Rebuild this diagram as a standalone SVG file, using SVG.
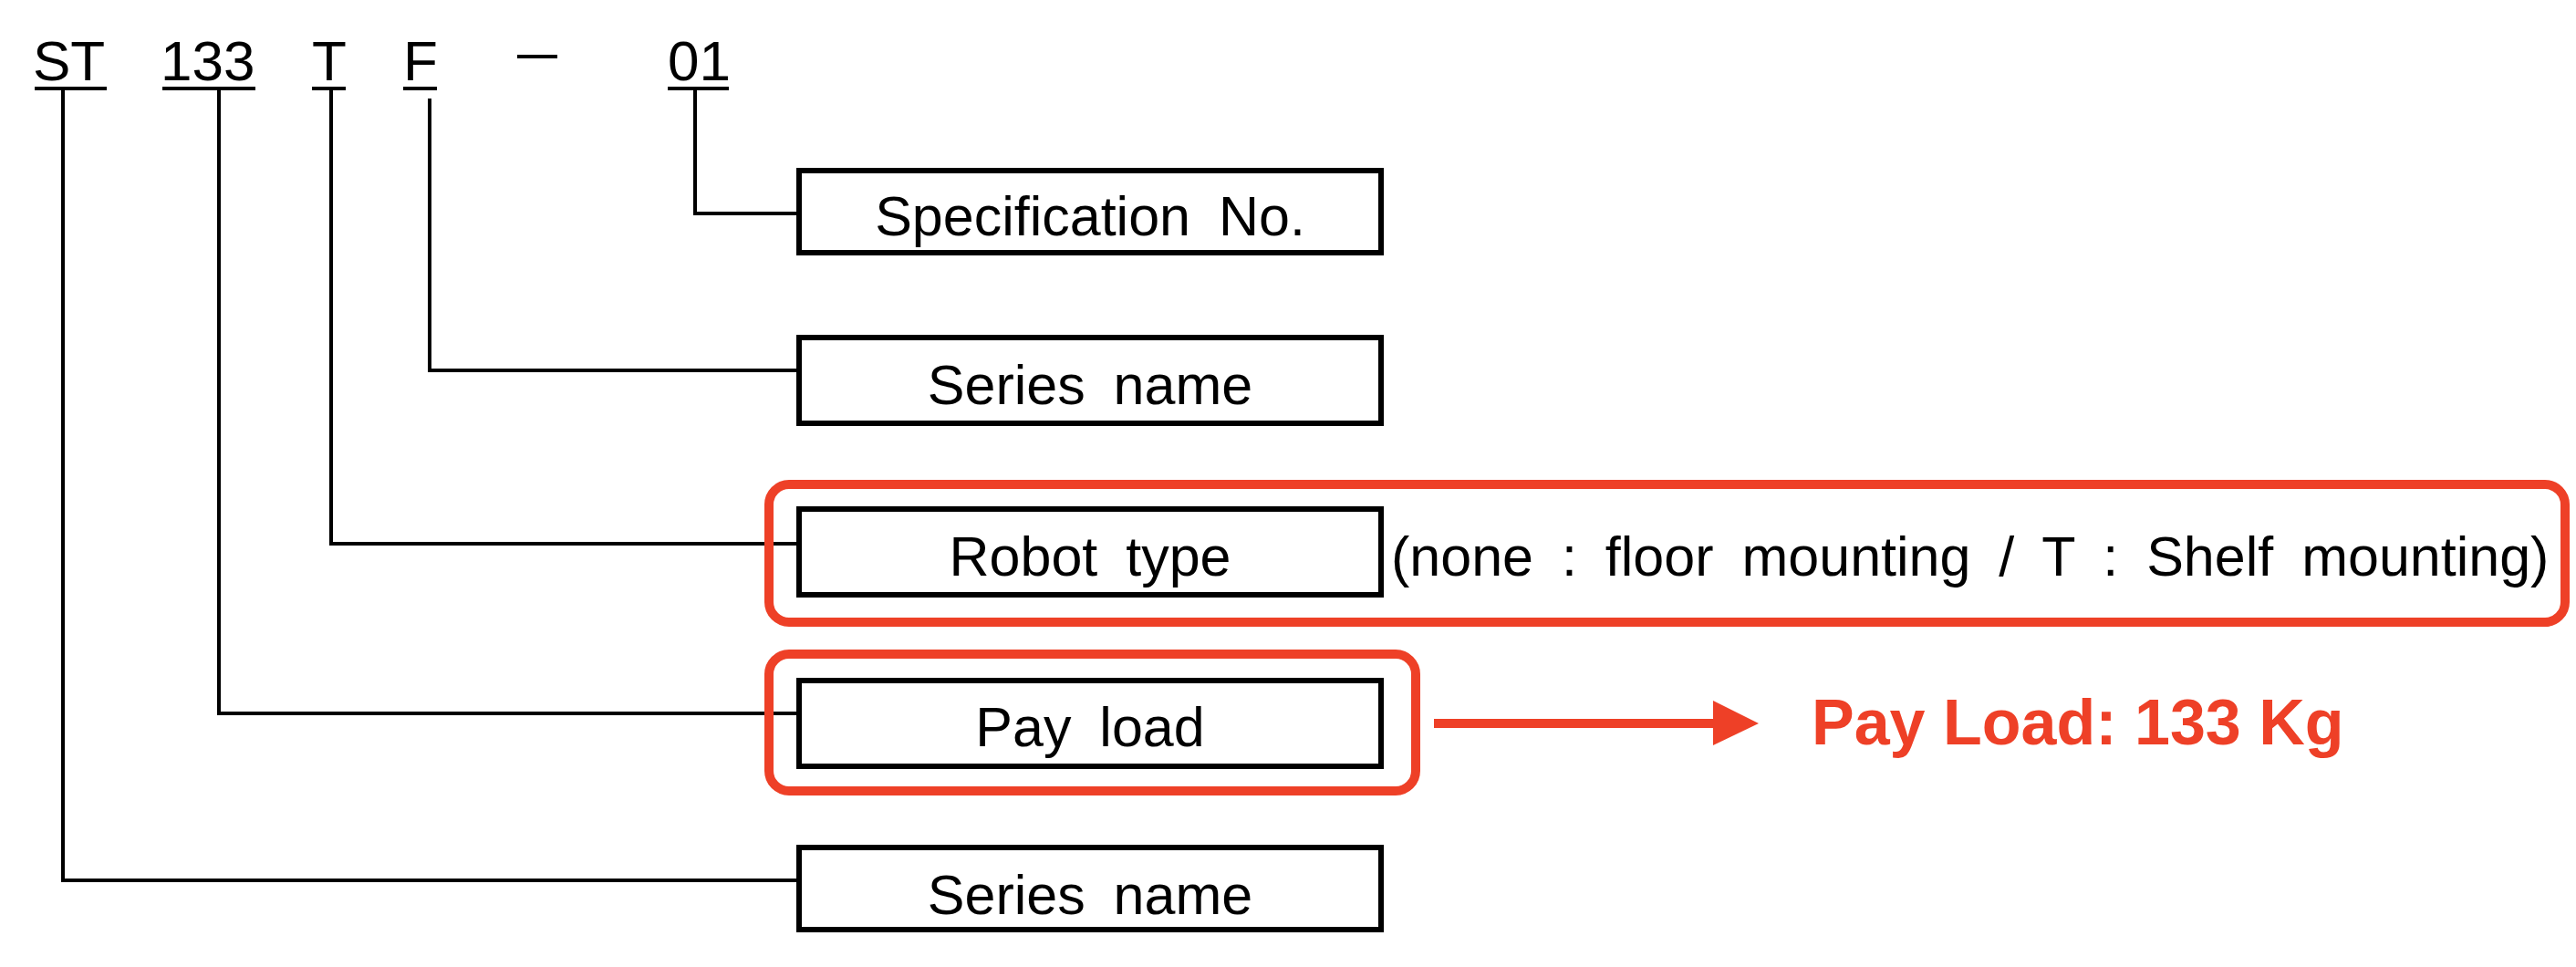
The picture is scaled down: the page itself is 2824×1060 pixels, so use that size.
<svg xmlns="http://www.w3.org/2000/svg" width="2824" height="1060" viewBox="0 0 2824 1060">
<style>
.code{font-family:"Liberation Sans",Arial,sans-serif;font-size:62px;fill:#000}
.lbl{font-family:"Liberation Sans",Arial,sans-serif;font-size:61px;fill:#000;word-spacing:14px}
.box{fill:#fff;stroke:#000;stroke-width:6}
.ul{stroke:#000;stroke-width:4;fill:none}
.con{stroke:#000;stroke-width:4;fill:none}
.hl{fill:none;stroke:#EE4027;stroke-width:10}
.red{font-family:"Liberation Sans",Arial,sans-serif;font-size:70px;font-weight:bold;fill:#EE4027}
</style>
<rect width="2824" height="1060" fill="#fff"/>
<g id="code">
<text class="code" x="36" y="88">ST</text>
<text class="code" x="176" y="88">133</text>
<text class="code" x="342" y="88">T</text>
<text class="code" x="442" y="88">F</text>
<text class="code" x="567" y="78" textLength="44" lengthAdjust="spacingAndGlyphs">—</text>
<text class="code" x="732" y="88">01</text>
<line class="ul" x1="38" y1="97" x2="117" y2="97"/>
<line class="ul" x1="178" y1="97" x2="280" y2="97"/>
<line class="ul" x1="342" y1="97" x2="379" y2="97"/>
<line class="ul" x1="442" y1="97" x2="479" y2="97"/>
<line class="ul" x1="732" y1="97" x2="799" y2="97"/>
</g>
<g id="connectors">
<polyline class="con" points="762,97 762,234 874,234"/>
<polyline class="con" points="471,108 471,406 874,406"/>
<polyline class="con" points="363,97 363,596 874,596"/>
<polyline class="con" points="240,97 240,782 874,782"/>
<polyline class="con" points="69,97 69,965 874,965"/>
<line x1="1572" y1="793" x2="1880" y2="793" stroke="#EE4027" stroke-width="10"/>
<polygon points="1878,768 1928,793 1878,817" fill="#EE4027"/>
</g>
<g id="highlight-robot"><rect class="hl" x="843" y="531" width="1969" height="151" rx="22"/></g>
<g id="highlight-payload"><rect class="hl" x="843" y="717" width="709" height="150" rx="22"/></g>
<g id="spec-no">
<rect class="box" x="876" y="187" width="638" height="90"/>
<text class="lbl" x="1195" y="258" text-anchor="middle">Specification No.</text>
</g>
<g id="series-name-1">
<rect class="box" x="876" y="370" width="638" height="94"/>
<text class="lbl" x="1195" y="443" text-anchor="middle">Series name</text>
</g>
<g id="robot-type">
<rect class="box" x="876" y="558" width="638" height="94"/>
<text class="lbl" x="1195" y="631" text-anchor="middle">Robot type</text>
<text class="lbl" x="1525" y="631">(none : floor mounting / T : Shelf mounting)</text>
</g>
<g id="pay-load">
<rect class="box" x="876" y="746" width="638" height="94"/>
<text class="lbl" x="1195" y="818" text-anchor="middle">Pay load</text>
</g>
<g id="series-name-2">
<rect class="box" x="876" y="929" width="638" height="90"/>
<text class="lbl" x="1195" y="1002" text-anchor="middle">Series name</text>
</g>
<g id="payload-value">
<text class="red" x="1986" y="816">Pay Load: 133 Kg</text>
</g>
</svg>
